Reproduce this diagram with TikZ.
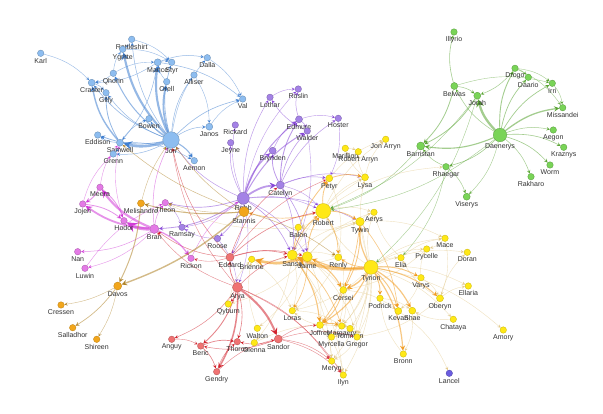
\documentclass[tikz,border=0pt]{standalone}
\usepackage{fontspec}
\setmainfont{Liberation Sans}
\usepackage{xcolor}
\usepackage{tikz}
\usetikzlibrary{arrows,backgrounds}

\definecolor{nwfill}{HTML}{8DBDF0}
\definecolor{nwline}{HTML}{3F7FD0}
\definecolor{rvfill}{HTML}{A482E6}
\definecolor{rvline}{HTML}{8848D8}
\definecolor{esfill}{HTML}{79D457}
\definecolor{esline}{HTML}{5AA534}
\definecolor{klfill}{HTML}{FFE816}
\definecolor{klline}{HTML}{F29B1E}
\definecolor{kltan}{HTML}{E3C98A}
\definecolor{dsfill}{HTML}{F2A61C}
\definecolor{dsline}{HTML}{B08328}
\definecolor{wffill}{HTML}{E47AE6}
\definecolor{wfline}{HTML}{D23CD8}
\definecolor{bhfill}{HTML}{F07272}
\definecolor{bhline}{HTML}{D2232E}
\definecolor{lanfill}{HTML}{6A5CE0}
\definecolor{lblgray}{HTML}{333333}

\tikzstyle{person} = [circle,inner sep=0pt,minimum size=6.5pt,line width=0.35pt]
\tikzstyle{watch} = [person,fill=nwfill,draw=nwfill!75!black]
\tikzstyle{river} = [person,fill=rvfill,draw=rvfill!75!black]
\tikzstyle{essos} = [person,fill=esfill,draw=esfill!75!black]
\tikzstyle{lion} = [person,fill=klfill,draw=klfill!80!black]
\tikzstyle{stag} = [person,fill=dsfill,draw=dsfill!80!black]
\tikzstyle{wolf} = [person,fill=wffill,draw=wffill!75!black]
\tikzstyle{brother} = [person,fill=bhfill,draw=bhfill!75!black]
\tikzstyle{lancelnode} = [person,fill=lanfill,draw=lanfill!75!black]
\tikzstyle{every label} = [font=\fontsize{7}{8}\selectfont,text=lblgray,inner sep=0.4pt]
\tikzstyle{link} = [->,>=stealth,draw opacity=0.55]
\tikzstyle{watchlink} = [link,nwline]
\tikzstyle{riverlink} = [link,rvline]
\tikzstyle{essoslink} = [link,esline]
\tikzstyle{lionlink} = [link,klline]
\tikzstyle{tanlink} = [link,kltan,line width=0.4pt]
\tikzstyle{staglink} = [link,dsline]
\tikzstyle{wolflink} = [link,wfline]
\tikzstyle{brotherlink} = [link,bhline]

\begin{document}
\begin{tikzpicture}[x=1pt,y=-1pt,label distance=0.8pt]
\useasboundingbox (0,0) rectangle (603,414);

% Night's watch and wildlings:
\node[watch,label={below:Karl}] (karl) at (40.7,53.3) {};
\node[watch,label={below:Rattleshirt}] (rattleshirt) at (131.7,39.3) {};
\node[watch,label={below:Ygritte}] (ygritte) at (122.7,49.3) {};
\node[watch,minimum size=7pt,label={below:Mance}] (mance) at (157.7,62.3) {};
\node[watch,label={below:Styr}] (styr) at (171.7,62.3) {};
\node[watch,label={below:Dalla}] (dalla) at (207.3,57.7) {};
\node[watch,label={below:Qhorin}] (qhorin) at (113.3,73.3) {};
\node[watch,minimum size=7pt,label={below:Craster}] (craster) at (91.7,82.7) {};
\node[watch,label={below:Gilly}] (gilly) at (106,92.7) {};
\node[watch,label={below:Orell}] (orell) at (166.7,81.7) {};
\node[watch,label={below:Alliser}] (alliser) at (194,75) {};
\node[watch,label={below:Val}] (val) at (242.7,99) {};
\node[watch,label={below:Bowen}] (bowen) at (149,118.7) {};
\node[watch,minimum size=7pt,label={below:Janos}] (janos) at (209.3,126.7) {};
\node[watch,label={below:Eddison}] (eddison) at (97.7,135) {};
\node[watch,minimum size=7pt,label={below:Samwell}] (samwell) at (120,142.7) {};
\node[watch,minimum size=16.5pt,label={[label distance=-0.5pt]below:Jon}] (jon) at (171,140) {};
\node[watch,label={below:Grenn}] (grenn) at (113.3,154) {};
\node[watch,label={below:Aemon}] (aemon) at (194.3,160.7) {};

% Riverlands and the north:
\node[river,label={below:Rickard}] (rickard) at (235.3,125) {};
\node[river,label={below:Jeyne}] (jeyne) at (230.7,142.7) {};
\node[river,label={below:Lothar}] (lothar) at (270,97.3) {};
\node[river,label={below:Roslin}] (roslin) at (298.3,89) {};
\node[river,minimum size=7pt,label={below:Edmure}] (edmure) at (299,119.3) {};
\node[river,label={below:Walder}] (walder) at (307.3,131) {};
\node[river,label={below:Hoster}] (hoster) at (338.3,118.3) {};
\node[river,minimum size=7pt,label={below:Brynden}] (brynden) at (272.7,150.7) {};
\node[river,minimum size=8pt,label={below:Catelyn}] (catelyn) at (280.3,185) {};
\node[river,minimum size=12pt,label={below:Robb}] (robb) at (243.3,198.3) {};
\node[river,label={below:Roose}] (roose) at (217.5,238.5) {};
\node[river,label={below:Ramsay}] (ramsay) at (182,227.3) {};

% Essos:
\node[essos,label={below:Illyrio}] (illyrio) at (454,32) {};
\node[essos,minimum size=7pt,label={below:Belwas}] (belwas) at (454.3,86) {};
\node[essos,minimum size=7pt,label={below:Jorah}] (jorah) at (477.3,95.7) {};
\node[essos,label={below:Drogo}] (drogo) at (515,68.3) {};
\node[essos,label={below:Daario}] (daario) at (528.3,77.3) {};
\node[essos,label={below:Irri}] (irri) at (552.3,83.3) {};
\node[essos,label={below:Missandei}] (missandei) at (562.7,107.7) {};
\node[essos,label={below:Aegon}] (aegon) at (553.3,130) {};
\node[essos,minimum size=13.5pt,label={below:Daenerys}] (daenerys) at (500,135) {};
\node[essos,label={below:Kraznys}] (kraznys) at (563.7,147.3) {};
\node[essos,label={below:Worm}] (worm) at (550,165) {};
\node[essos,label={below:Rakharo}] (rakharo) at (531,176.7) {};
\node[essos,minimum size=8pt,label={below:Barristan}] (barristan) at (420.7,146) {};
\node[essos,label={below:Rhaegar}] (rhaegar) at (446,166.7) {};
\node[essos,minimum size=7pt,label={below:Viserys}] (viserys) at (466.7,196.7) {};

% King's landing:
\node[lion,label={below:Marillion}] (marillion) at (345.3,148.3) {};
\node[lion,label={below:Robert Arryn}] (robertarryn) at (358.3,151.7) {};
\node[lion,label={below:Jon Arryn}] (jonarryn) at (385.7,139.3) {};
\node[lion,minimum size=7pt,label={below:Petyr}] (petyr) at (329.3,178.3) {};
\node[lion,minimum size=7pt,label={below:Lysa}] (lysa) at (365,177.3) {};
\node[lion,minimum size=15pt,label={below:Robert}] (robert) at (323.3,211) {};
\node[lion,label={below:Aerys}] (aerys) at (374,212.3) {};
\node[lion,minimum size=8.5pt,label={below:Tywin}] (tywin) at (360,221.7) {};
\node[lion,label={below:Balon}] (balon) at (298.3,227.3) {};
\node[lion,minimum size=10pt,label={below:Sansa}] (sansa) at (292.3,255) {};
\node[lion,minimum size=10pt,label={below:Jaime}] (jaime) at (307.3,256.7) {};
\node[lion,minimum size=7pt,label={below:Renly}] (renly) at (338.3,257.3) {};
\node[lion,minimum size=14pt,label={below:Tyrion}] (tyrion) at (371,267.3) {};
\node[lion,minimum size=7pt,label={below:Cersei}] (cersei) at (343.3,290) {};
\node[lion,label={below:Podrick}] (podrick) at (380,298.3) {};
\node[lion,label={below:Mace}] (mace) at (445,238.3) {};
\node[lion,label={below:Elia}] (elia) at (401,257.7) {};
\node[lion,label={below:Pycelle}] (pycelle) at (426.7,249) {};
\node[lion,label={below:Doran}] (doran) at (467.3,252.3) {};
\node[lion,label={below:Varys}] (varys) at (421,277.7) {};
\node[lion,label={below:Ellaria}] (ellaria) at (468.3,286) {};
\node[lion,minimum size=7pt,label={below:Oberyn}] (oberyn) at (440,298.3) {};
\node[lion,minimum size=7pt,label={below:Kevan}] (kevan) at (398.3,311) {};
\node[lion,minimum size=7pt,label={below:Shae}] (shae) at (412.3,310.7) {};
\node[lion,label={below:Chataya}] (chataya) at (453.3,319.3) {};
\node[lion,label={below:Amory}] (amory) at (503.3,330) {};
\node[lion,label={below:Bronn}] (bronn) at (403.3,354) {};
\node[lion,label={below:Qyburn}] (qyburn) at (228.3,304) {};
\node[lion,label={below:Loras}] (loras) at (292.3,310.7) {};
\node[lion,label={below:Walton}] (walton) at (257.3,328.3) {};
\node[lion,label={below:Olenna}] (olenna) at (254.3,342.7) {};
\node[lion,minimum size=7pt,label={below:Joffrey}] (joffrey) at (320,325) {};
\node[lion,label={below:Margaery}] (margaery) at (341.7,326) {};
\node[lion,label={below:Tommen}] (tommen) at (350,328.5) {};
\node[lion,label={below:Myrcella}] (myrcella) at (331.5,337) {};
\node[lion,label={below:Gregor}] (gregor) at (357,337) {};
\node[lion,label={below:Meryn}] (meryn) at (331.7,361) {};
\node[lion,label={below:Ilyn}] (ilyn) at (343.3,375) {};
\node[lion,label={below:Brienne}] (brienne) at (251.7,259.3) {};
\node[lancelnode,label={below:Lancel}] (lancel) at (449.3,373.3) {};

% Dragonstone:
\node[stag,minimum size=10pt,label={below:Stannis}] (stannis) at (244,211.7) {};
\node[stag,minimum size=7pt,label={below:Melisandre}] (melisandre) at (141,203.3) {};
\node[stag,minimum size=8pt,label={below:Davos}] (davos) at (117.7,286) {};
\node[stag,label={below:Cressen}] (cressen) at (61,305) {};
\node[stag,label={below:Salladhor}] (salladhor) at (72.7,327.7) {};
\node[stag,label={below:Shireen}] (shireen) at (96.7,339.3) {};

% Winterfell:
\node[wolf,label={below:Meera}] (meera) at (100,187.3) {};
\node[wolf,label={below:Jojen}] (jojen) at (82.7,204) {};
\node[wolf,label={below:Theon}] (theon) at (165.3,202.7) {};
\node[wolf,label={below:Hodor}] (hodor) at (124,220.7) {};
\node[wolf,minimum size=9pt,label={below:Bran}] (bran) at (154.3,229) {};
\node[wolf,label={below:Nan}] (nan) at (77.7,251.7) {};
\node[wolf,label={below:Luwin}] (luwin) at (85,268.3) {};
\node[wolf,label={below:Rickon}] (rickon) at (191,258.3) {};

% Brotherhood:
\node[brother,minimum size=8pt,label={below:Eddard}] (eddard) at (230,257.3) {};
\node[brother,minimum size=10pt,label={below:Arya}] (arya) at (237.5,287.3) {};
\node[brother,label={below:Anguy}] (anguy) at (171.7,339.3) {};
\node[brother,label={below:Beric}] (beric) at (200.7,346) {};
\node[brother,label={below:Thoros}] (thoros) at (237.3,341.7) {};
\node[brother,label={below:Gendry}] (gendry) at (216.7,371.7) {};
\node[brother,minimum size=8pt,label={below:Sandor}] (sandor) at (278.3,339) {};

% Edges:
\begin{scope}[on background layer]
\fill[white] (0,0) rectangle (603,414);

\foreach \a/\b/\w in {jon/samwell/2.6pt,jon/mance/2.1pt,jon/ygritte/2.1pt,jon/orell/1.7pt,samwell/craster/1.4pt,
	jon/qhorin/1pt,jon/aemon/1.1pt,jon/eddison/0.8pt,samwell/gilly/0.8pt,jon/rattleshirt/0.5pt,jon/styr/0.6pt,
	jon/alliser/0.5pt,jon/dalla/0.4pt,jon/val/0.6pt,jon/janos/0.5pt,jon/bowen/0.4pt,jon/craster/0.6pt,
	jon/gilly/0.5pt,jon/grenn/0.5pt,samwell/eddison/0.5pt,samwell/grenn/0.5pt,samwell/bowen/0.4pt,
	karl/craster/0.4pt,craster/gilly/0.5pt,mance/val/0.5pt,mance/dalla/0.5pt,dalla/val/0.4pt,
	rattleshirt/ygritte/0.4pt,rattleshirt/styr/0.4pt,mance/craster/0.4pt,qhorin/ygritte/0.4pt,
	qhorin/mance/0.4pt,samwell/aemon/0.5pt,mance/styr/0.4pt,ygritte/styr/0.4pt,orell/mance/0.4pt,
	alliser/janos/0.4pt,janos/val/0.4pt,qhorin/craster/0.4pt,mance/samwell/0.5pt}
{
	\draw[watchlink,line width=\w] (\a) to[bend left=15] (\b);
}

\foreach \a/\b/\w in {robb/catelyn/1.8pt,robb/brynden/1.3pt,robb/edmure/1pt,robb/walder/1pt,catelyn/edmure/0.9pt,
	catelyn/brynden/0.8pt,robb/bran/0.8pt,robb/theon/0.7pt,robb/lothar/0.5pt,robb/roslin/0.4pt,
	robb/rickard/0.4pt,robb/jeyne/0.5pt,robb/roose/0.6pt,catelyn/hoster/0.5pt,catelyn/walder/0.6pt,
	catelyn/lysa/0.5pt,catelyn/petyr/0.5pt,edmure/roslin/0.5pt,edmure/walder/0.5pt,edmure/hoster/0.4pt,
	walder/lothar/0.5pt,lothar/roslin/0.4pt,brynden/edmure/0.5pt,robb/sansa/0.6pt,robb/tywin/0.5pt,
	catelyn/jaime/0.6pt,catelyn/sansa/0.5pt,robb/jon/0.5pt,robb/ramsay/0.4pt,roose/ramsay/0.4pt,
	theon/ramsay/0.4pt,catelyn/robert/0.4pt,hoster/petyr/0.4pt,robb/eddard/0.5pt,robb/arya/0.4pt,
	robb/robert/0.4pt,robb/jaime/0.5pt,walder/sansa/0.4pt,roose/arya/0.4pt}
{
	\draw[riverlink,line width=\w] (\a) to[bend left=15] (\b);
}

\foreach \a/\b/\w in {daenerys/jorah/2.3pt,daenerys/barristan/1.1pt,daenerys/drogo/0.9pt,daenerys/missandei/1.3pt,
	daenerys/daario/0.7pt,daenerys/irri/0.7pt,jorah/barristan/0.8pt,belwas/barristan/0.8pt,
	daenerys/aegon/0.5pt,daenerys/kraznys/0.6pt,daenerys/worm/0.6pt,daenerys/rakharo/0.5pt,
	daenerys/rhaegar/0.6pt,daenerys/belwas/0.5pt,daenerys/viserys/0.4pt,belwas/illyrio/0.6pt,
	belwas/jorah/0.5pt,drogo/jorah/0.5pt,drogo/irri/0.4pt,irri/missandei/0.4pt,drogo/daario/0.4pt,
	rhaegar/viserys/0.5pt,rhaegar/barristan/0.5pt,daenerys/robert/0.4pt,jorah/robert/0.4pt,
	barristan/robert/0.4pt,rhaegar/elia/0.4pt,jorah/tyrion/0.4pt,drogo/missandei/0.4pt,belwas/irri/0.4pt}
{
	\draw[essoslink,line width=\w] (\a) to[bend left=15] (\b);
}

\foreach \a/\b in {tyrion/robert,tyrion/pycelle,tyrion/elia,tyrion/mace,tyrion/doran,tyrion/ellaria,
	tyrion/chataya,tyrion/lysa,tyrion/aerys,tyrion/margaery,tyrion/tommen,tyrion/gregor,tyrion/loras,
	tyrion/myrcella,tyrion/meryn,tyrion/ilyn,tyrion/amory,jaime/sansa,jaime/walton,jaime/aerys,
	jaime/tywin,jaime/joffrey,jaime/qyburn,jaime/gregor,sansa/lysa,sansa/loras,sansa/olenna,
	sansa/cersei,sansa/tywin,sansa/meryn,sansa/ilyn,sansa/renly,robert/aerys,robert/lysa,
	robert/jonarryn,robert/cersei,robert/balon,lysa/marillion,lysa/robertarryn,lysa/jonarryn,
	marillion/robertarryn,petyr/renly,tywin/aerys,tywin/balon,cersei/margaery,margaery/tommen,
	tommen/myrcella,cersei/myrcella,gregor/meryn,meryn/ilyn,joffrey/meryn,joffrey/ilyn,
	oberyn/ellaria,oberyn/elia,oberyn/doran,oberyn/gregor,mace/pycelle,elia/mace,varys/pycelle,
	varys/kevan,chataya/shae,kevan/lancel,shae/bronn,bronn/podrick,renly/loras,renly/brienne,
	brienne/loras,loras/margaery,olenna/margaery,balon/theon,petyr/jonarryn,varys/oberyn,
	cersei/kevan,joffrey/loras,tywin/mace,elia/aerys,mace/oberyn,pycelle/cersei,walton/brienne,
	sansa/brienne,qyburn/brienne,podrick/shae,cersei/gregor,tywin/gregor,joffrey/tommen,robert/rhaegar}
{
	\draw[tanlink] (\a) to[bend left=15] (\b);
}

\foreach \a/\b/\w in {tyrion/sansa/3.2pt,jaime/brienne/2.6pt,tyrion/jaime/1.2pt,tyrion/cersei/1.4pt,
	tyrion/tywin/1.2pt,tyrion/bronn/1.2pt,tyrion/shae/1.2pt,tyrion/joffrey/1.1pt,sansa/joffrey/1.1pt,
	jaime/cersei/1.1pt,tyrion/podrick/0.9pt,tyrion/varys/0.9pt,tyrion/oberyn/1pt,tyrion/kevan/0.9pt,
	robert/petyr/0.8pt,robert/tywin/0.8pt,sansa/robert/0.8pt,jaime/robert/0.8pt,sansa/petyr/0.8pt,
	tywin/cersei/0.8pt,cersei/joffrey/0.8pt,joffrey/margaery/0.8pt,tyrion/renly/0.7pt,robert/renly/0.7pt,
	petyr/lysa/0.8pt,jaime/loras/0.6pt,sansa/margaery/0.7pt,tywin/joffrey/0.7pt,tywin/kevan/0.6pt,
	robert/stannis/0.7pt}
{
	\draw[lionlink,line width=\w] (\a) to[bend left=15] (\b);
}

\foreach \a/\b/\w in {arya/sandor/2pt,arya/gendry/1.5pt,arya/beric/0.9pt,arya/eddard/0.8pt,arya/thoros/0.6pt,
	arya/anguy/0.5pt,arya/qyburn/0.4pt,beric/thoros/0.7pt,beric/gendry/0.6pt,gendry/thoros/0.5pt,
	anguy/beric/0.4pt,sandor/beric/0.5pt,sandor/thoros/0.5pt,sandor/meryn/0.4pt,sandor/ilyn/0.4pt,
	arya/ilyn/0.4pt,arya/meryn/0.4pt,eddard/sansa/0.6pt,eddard/robert/0.6pt,eddard/bran/0.5pt,
	eddard/jon/0.5pt,eddard/rickon/0.4pt,arya/sansa/0.5pt,arya/jon/0.4pt,arya/bran/0.4pt,
	eddard/jaime/0.5pt,eddard/petyr/0.4pt,gendry/sandor/0.4pt,eddard/catelyn/0.5pt,
	sandor/gregor/0.4pt,sandor/joffrey/0.4pt}
{
	\draw[brotherlink,line width=\w] (\a) to[bend left=15] (\b);
}

\foreach \a/\b/\w in {bran/hodor/3.4pt,bran/meera/2.2pt,bran/jojen/1.8pt,bran/rickon/1.3pt,meera/jojen/1pt,
	meera/hodor/0.8pt,jojen/hodor/0.8pt,bran/theon/0.5pt,bran/nan/0.5pt,bran/luwin/0.4pt,bran/jon/0.5pt,
	meera/samwell/0.4pt,jojen/grenn/0.4pt,rickon/robb/0.4pt,hodor/samwell/0.4pt,luwin/theon/0.4pt}
{
	\draw[wolflink,line width=\w] (\a) to[bend left=15] (\b);
}

\foreach \a/\b/\w in {stannis/davos/1.4pt,melisandre/davos/1pt,stannis/melisandre/1pt,davos/cressen/0.4pt,
	davos/salladhor/0.7pt,davos/shireen/0.4pt,stannis/jon/0.5pt,stannis/samwell/0.5pt,
	stannis/renly/0.5pt,melisandre/jon/0.4pt,stannis/theon/0.4pt}
{
	\draw[staglink,line width=\w] (\a) to[bend left=10] (\b);
}
\end{scope}

\end{tikzpicture}
\end{document}
